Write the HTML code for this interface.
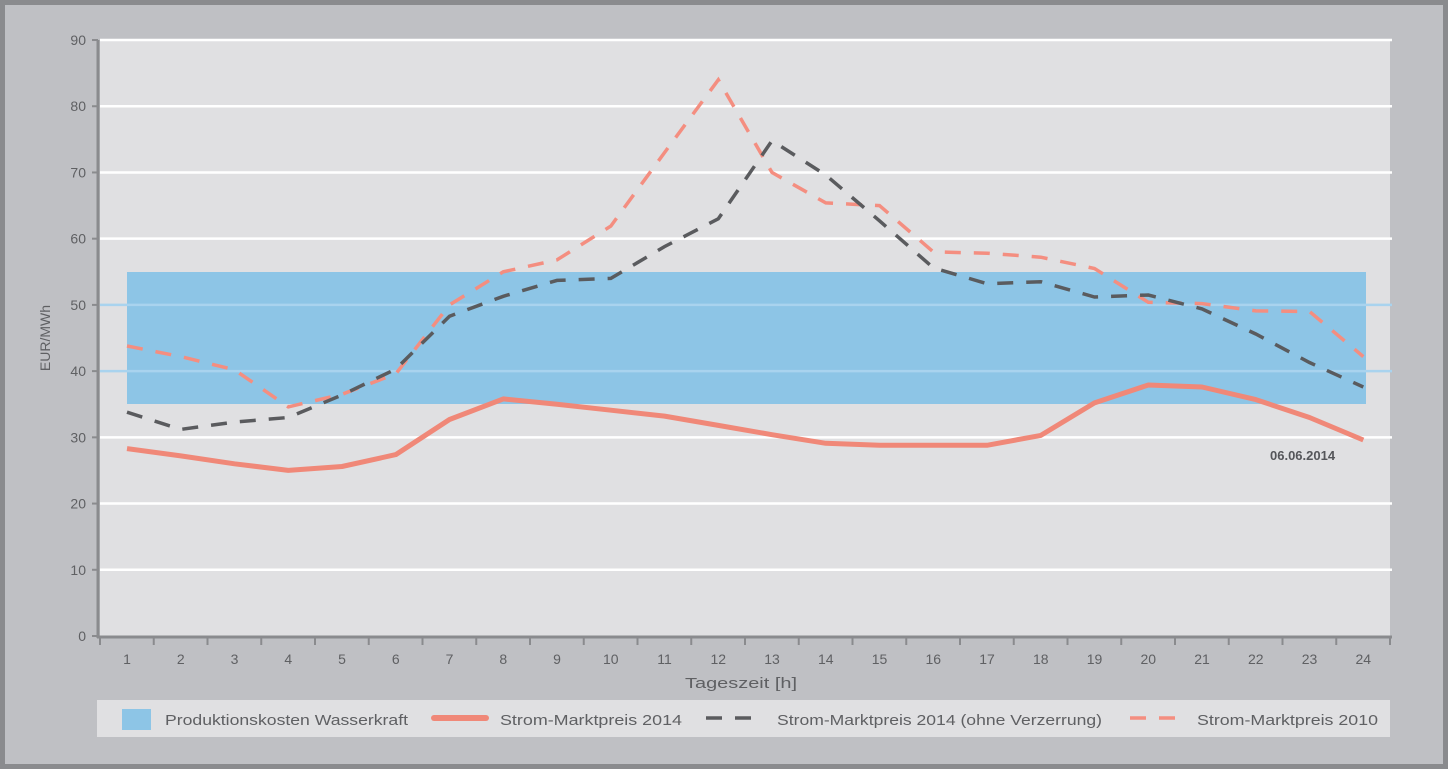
<!DOCTYPE html>
<html><head><meta charset="utf-8"><style>
html,body{margin:0;padding:0;background:#8a8b8e;}
svg{display:block}
text{font-family:"Liberation Sans",sans-serif;fill:#5f6063}
</style></head><body>
<svg id="s" width="1448" height="769" xmlns="http://www.w3.org/2000/svg">
<rect x="0" y="0" width="1448" height="769" fill="#8a8b8e"/>
<rect x="5" y="5" width="1438" height="759" fill="#bfc0c4"/>
<rect x="100" y="40" width="1290" height="596" fill="#e0e0e2"/>
<g id="grid"></g>
<rect x="127" y="272" width="1239" height="132" fill="#8dc5e6"/>
<g id="grid2"></g>
<g id="series"></g>
<line x1="98" y1="40" x2="98" y2="638" stroke="#8a8b8e" stroke-width="3"/>
<line x1="97" y1="637" x2="1392" y2="637" stroke="#8a8b8e" stroke-width="3"/>
<g id="ticks"></g>
<text x="1270" y="460" font-size="13" font-weight="bold" style="fill:#55565a">06.06.2014</text>
<text x="50" y="338" font-size="14" transform="rotate(-90 50 338)" text-anchor="middle">EUR/MWh</text>
<text x="741" y="688" font-size="15" text-anchor="middle" textLength="112" lengthAdjust="spacingAndGlyphs">Tageszeit [h]</text>
<rect x="97" y="700" width="1293" height="37" fill="#e0e0e2"/>
<rect x="122" y="709" width="29" height="21" fill="#8dc5e6"/>
<text x="165" y="725" font-size="15" textLength="243" lengthAdjust="spacingAndGlyphs">Produktionskosten Wasserkraft</text>
<line x1="434" y1="718" x2="486" y2="718" stroke="#f08878" stroke-width="6" stroke-linecap="round"/>
<text x="500" y="725" font-size="15" textLength="182" lengthAdjust="spacingAndGlyphs">Strom-Marktpreis 2014</text>
<line x1="706" y1="718" x2="763" y2="718" stroke="#5a5b5e" stroke-width="3.5" stroke-dasharray="16,13"/>
<text x="777" y="725" font-size="15" textLength="325" lengthAdjust="spacingAndGlyphs">Strom-Marktpreis 2014 (ohne Verzerrung)</text>
<line x1="1130" y1="718" x2="1183" y2="718" stroke="#f48e80" stroke-width="3.5" stroke-dasharray="16,13"/>
<text x="1197" y="725" font-size="15" textLength="181" lengthAdjust="spacingAndGlyphs">Strom-Marktpreis 2010</text>
</svg>
<script>
var NS="http://www.w3.org/2000/svg";
function el(p,t,a,txt){var e=document.createElementNS(NS,t);for(var k in a)e.setAttribute(k,a[k]);if(txt!==undefined)e.textContent=txt;document.getElementById(p).appendChild(e);return e;}
function Y(v){return 636-v*6.622;}
function X(i){return 127+(i-1)*53.75;}
for(var v=10;v<=90;v+=10){
  el(v==50||v==40?'grid2':'grid','line',{x1:100,x2:1392,y1:Y(v),y2:Y(v),stroke:v==50||v==40?'#a9d3ee':'#ffffff','stroke-width':2.5});
}
for(var v=0;v<=90;v+=10){
  el('ticks','line',{x1:92,x2:98,y1:Y(v),y2:Y(v),stroke:'#8a8b8e','stroke-width':2});
  el('ticks','text',{x:86,y:Y(v)+5,'font-size':14,'text-anchor':'end'},String(v));
}
for(var i=0;i<=24;i++){
  var x=100+i*53.75;
  el('ticks','line',{x1:x,x2:x,y1:637,y2:645,stroke:'#8a8b8e','stroke-width':2});
  if(i>0)el('ticks','text',{x:X(i),y:664,'font-size':14,'text-anchor':'middle'},String(i));
}
function path(d){return d.map(function(v,i){return (i?'L':'M')+X(i+1).toFixed(1)+','+Y(v).toFixed(1);}).join(' ');}
var s10=[43.8,42.2,40.2,34.6,36.5,39.6,50,55,56.8,61.9,73,84,70,65.4,65,58,57.8,57.2,55.5,50.4,50.2,49.1,49,42.2];
var d14=[33.8,31.2,32.3,33,36.4,40.3,48.3,51.3,53.7,54,58.8,63,74.8,69.6,62.7,55.6,53.2,53.5,51.2,51.5,49.4,45.6,41.3,37.6];
var s14=[28.3,27.2,26,25,25.6,27.4,32.7,35.8,35,34.1,33.2,31.8,30.4,29.1,28.8,28.8,28.8,30.3,35.2,37.9,37.6,35.7,33,29.6];
el('series','path',{d:path(s10),fill:'none',stroke:'#f48e80','stroke-width':3.5,'stroke-dasharray':'16,13'});
el('series','path',{d:path(d14),fill:'none',stroke:'#5a5b5e','stroke-width':3.5,'stroke-dasharray':'16,13'});
el('series','path',{d:path(s14),fill:'none',stroke:'#f08878','stroke-width':5,'stroke-linejoin':'round'});
</script>
</body></html>
